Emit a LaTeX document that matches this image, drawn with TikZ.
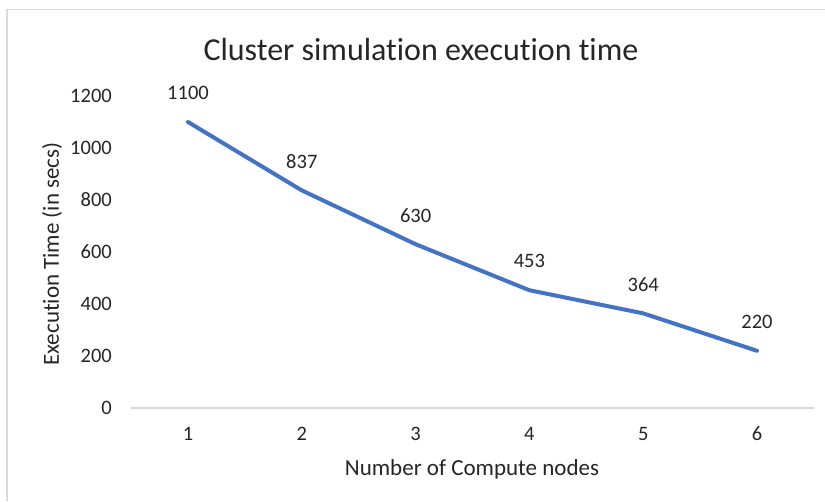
\documentclass[tikz,border=0pt]{standalone}
\usepackage{fontspec}
\setmainfont{Carlito}[Ligatures={NoCommon}]
\definecolor{frame}{HTML}{D9D9D9}
\definecolor{axisgray}{HTML}{D9D9D9}
\definecolor{series}{HTML}{4472C4}
\definecolor{txt}{HTML}{262626}
\begin{document}
\begin{tikzpicture}[x=1pt,y=-1pt,
  ticklabel/.style={font=\fontsize{20.5}{24}\selectfont, text=txt, inner sep=0pt},
  datalabel/.style={font=\fontsize{20.5}{24}\selectfont, text=txt, inner sep=0pt},
  axistitle/.style={font=\fontsize{23}{27}\selectfont, text=txt, inner sep=0pt},
  charttitle/.style={font=\fontsize{32}{37}\selectfont, text=txt, inner sep=0pt}]
  \useasboundingbox[fill=white] (0,0) rectangle (825,501);
  % chart area frame (top and left edges)
  \draw[frame, line width=1.5pt] (7,501) -- (7,9.5) -- (825,9.5);
  % title
  \node[charttitle, anchor=base] (title) at (421,60) {Cluster simulation execution time};
  % horizontal axis line
  \coordinate (axL) at (131,408);
  \coordinate (axR) at (814,408);
  \draw[axisgray, line width=1.5pt] (axL) -- (axR);
  % vertical axis labels
  \foreach \v in {0,200,...,1200}
    \node[ticklabel, anchor=east] (y\v) at (112,{408-0.26*\v}) {\v};
  % category labels and data points
  \foreach \i/\v in {1/1100,2/837,3/630,4/453,5/364,6/220}{
    \coordinate (p\i) at ({188+(\i-1)*113.8},{408-0.26*\v});
    \node[ticklabel] (x\i) at ({188+(\i-1)*113.8},434) {\i};
    \node[datalabel] (d\i) at ({188+(\i-1)*113.8},{408-0.26*\v-29}) {\v};
  }
  % series line
  \draw[series, line width=4pt, line join=round, line cap=round]
    (p1) -- (p2) -- (p3) -- (p4) -- (p5) -- (p6);
  % axis titles
  \node[axistitle] (xtitle) at (472,469) {Number of Compute nodes};
  \node[axistitle, rotate=90] (ytitle) at (52,254) {Execution Time (in secs)};
\end{tikzpicture}
\end{document}
